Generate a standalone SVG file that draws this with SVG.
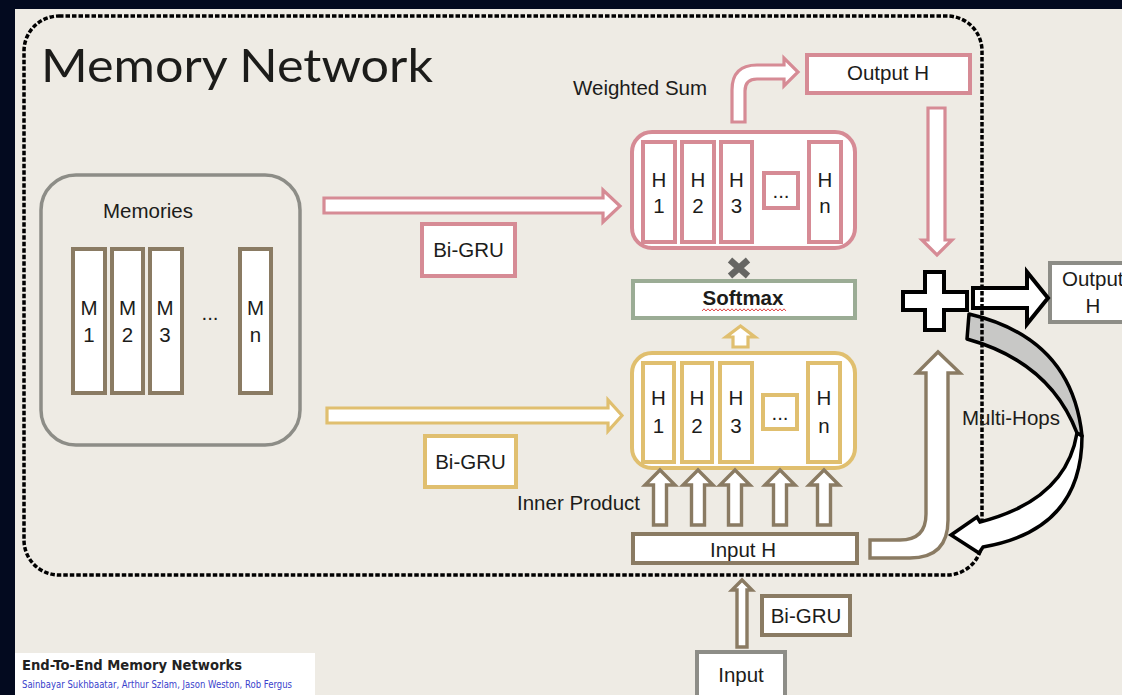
<svg xmlns="http://www.w3.org/2000/svg" width="1122" height="695" viewBox="0 0 1122 695">
  <defs>
    <style>
      .t{font-family:"Liberation Sans",Arial,sans-serif;font-size:20.5px;fill:#1c1c1a}
      .c{text-anchor:middle}
      .pink{fill:#fff;stroke:#d68b95;stroke-width:4}
      .yel{fill:#fff;stroke:#e0bf6f;stroke-width:4}
      .brn{fill:#fff;stroke:#8a7b63;stroke-width:4}
      .gry{fill:#fff;stroke:#8d8d87;stroke-width:4}
      .grn{fill:#fff;stroke:#9bac95;stroke-width:4}
      .pa{fill:#fff;stroke:#d68b95;stroke-width:3.2;stroke-linejoin:miter}
      .ya{fill:#fff;stroke:#e0bf6f;stroke-width:3.2}
      .ba{fill:#fff;stroke:#8a7b63;stroke-width:3.4}
      .ka{fill:#fff;stroke:#000;stroke-width:4}
    </style>
  </defs>

  <!-- page and slide -->
  <rect width="1122" height="695" fill="#030a1f"/>
  <rect x="15" y="9" width="1107" height="686" fill="#eeebe4"/>

  <text x="41" y="82" font-family="Lato,'Open Sans',sans-serif" font-size="47" fill="#1c1c1a" textLength="392" lengthAdjust="spacingAndGlyphs">Memory Network</text>

  <!-- memories -->
  <g id="memories">
    <rect x="41" y="175" width="259" height="270" rx="35" fill="none" stroke="#8d8d87" stroke-width="3.5"/>
    <text class="t c" x="148" y="218">Memories</text>
    <rect class="brn" x="73" y="249" width="32" height="144" stroke-width="3.5"/>
    <rect class="brn" x="112" y="249" width="31" height="144" stroke-width="3.5"/>
    <rect class="brn" x="150" y="249" width="32" height="144" stroke-width="3.5"/>
    <rect class="brn" x="240" y="249" width="31" height="144" stroke-width="3.5"/>
    <text class="t c" font-size="19.5"><tspan x="89" y="315">M</tspan><tspan x="89" y="342">1</tspan></text>
    <text class="t c" font-size="19.5"><tspan x="127.5" y="315">M</tspan><tspan x="127.5" y="342">2</tspan></text>
    <text class="t c" font-size="19.5"><tspan x="165" y="315">M</tspan><tspan x="165" y="342">3</tspan></text>
    <text class="t c" x="210" y="320" font-size="19">...</text>
    <text class="t c" font-size="19.5"><tspan x="255.5" y="315">M</tspan><tspan x="255.5" y="342">n</tspan></text>
  </g>

  <!-- output-side hidden states -->
  <g id="output-states">
    <rect class="pink" x="632" y="132" width="223" height="116" rx="20"/>
    <rect class="pink" x="643" y="142" width="32" height="100"/>
    <rect class="pink" x="682" y="142" width="32" height="100"/>
    <rect class="pink" x="721" y="142" width="31" height="100"/>
    <rect class="pink" x="764" y="173" width="34" height="35"/>
    <rect class="pink" x="809" y="142" width="32" height="100"/>
    <text class="t c"><tspan x="659" y="187">H</tspan><tspan x="659" y="213">1</tspan></text>
    <text class="t c"><tspan x="698" y="187">H</tspan><tspan x="698" y="213">2</tspan></text>
    <text class="t c"><tspan x="736.5" y="187">H</tspan><tspan x="736.5" y="213">3</tspan></text>
    <text class="t c" x="781" y="198" font-size="18">...</text>
    <text class="t c"><tspan x="825" y="187">H</tspan><tspan x="825" y="213">n</tspan></text>
  </g>

  <g id="weighted-sum-label"><text class="t" x="573" y="95">Weighted Sum</text></g>

  <g id="output-h">
    <rect class="pink" x="807" y="55" width="163" height="38"/>
    <text class="t c" x="888" y="80">Output H</text>
  </g>

  <g id="bigru-top">
    <rect class="pink" x="422" y="224" width="93" height="52"/>
    <text class="t c" x="468.5" y="257" font-size="19.5">Bi-GRU</text>
  </g>

  <g id="softmax">
    <rect class="grn" x="633" y="281" width="222" height="37"/>
    <text class="t c" x="743" y="305" font-size="20" font-weight="bold" fill="#000">Softmax</text>
    <path d="M702,311 l2,-2.2 l2,2.2 l2,-2.2 l2,2.2 l2,-2.2 l2,2.2 l2,-2.2 l2,2.2 l2,-2.2 l2,2.2 l2,-2.2 l2,2.2 l2,-2.2 l2,2.2 l2,-2.2 l2,2.2 l2,-2.2 l2,2.2 l2,-2.2 l2,2.2 l2,-2.2 l2,2.2 l2,-2.2 l2,2.2 l2,-2.2 l2,2.2 l2,-2.2 l2,2.2 l2,-2.2 l2,2.2 l2,-2.2 l2,2.2 l2,-2.2 l2,2.2 l2,-2.2 l2,2.2 l2,-2.2 l2,2.2 l2,-2.2 l2,2.2 l2,-2.2 l2,2.2" fill="none" stroke="#e04848" stroke-width="1"/>
  </g>

  <g id="times">
    <path d="M730,260 L748,276 M748,260 L730,276" stroke="#666663" stroke-width="6.5"/>
  </g>

  <!-- input-side hidden states -->
  <g id="input-states">
    <rect class="yel" x="632" y="353" width="223" height="115" rx="20"/>
    <rect class="yel" x="643" y="363" width="31" height="99"/>
    <rect class="yel" x="682" y="363" width="30" height="99"/>
    <rect class="yel" x="720" y="363" width="32" height="99"/>
    <rect class="yel" x="763" y="395" width="34" height="34"/>
    <rect class="yel" x="808" y="363" width="32" height="99"/>
    <text class="t c"><tspan x="658.5" y="405">H</tspan><tspan x="658.5" y="433">1</tspan></text>
    <text class="t c"><tspan x="697" y="405">H</tspan><tspan x="697" y="433">2</tspan></text>
    <text class="t c"><tspan x="736" y="405">H</tspan><tspan x="736" y="433">3</tspan></text>
    <text class="t c" x="780" y="420" font-size="18">...</text>
    <text class="t c"><tspan x="824" y="405">H</tspan><tspan x="824" y="433">n</tspan></text>
  </g>

  <g id="bigru-mid">
    <rect class="yel" x="425" y="436" width="91" height="51"/>
    <text class="t c" x="470.5" y="469" font-size="19.5">Bi-GRU</text>
  </g>

  <g id="inner-product-label"><text class="t" x="517" y="510">Inner Product</text></g>

  <g id="input-h">
    <rect class="brn" x="633" y="534" width="224" height="29"/>
    <text class="t c" x="743" y="557">Input H</text>
  </g>

  <g id="plus">
    <path class="ka" d="M925,272 H944 V292 H967 V310 H944 V330 H925 V310 H903 V292 H925 Z"/>
  </g>

  <g id="output-final">
    <rect class="gry" x="1050" y="263" width="90" height="59"/>
    <text class="t" x="1062" y="286">Output</text>
    <text class="t c" x="1093" y="313">H</text>
  </g>

  <g id="bigru-bottom">
    <rect class="brn" x="762" y="596" width="88" height="39"/>
    <text class="t c" x="806" y="623" font-size="19.5">Bi-GRU</text>
  </g>

  <g id="input">
    <rect class="gry" x="697" y="652" width="88" height="50"/>
    <text class="t c" x="741" y="682">Input</text>
  </g>

  <!-- connectors -->
  <g id="connectors">
    <path class="pa" d="M324,198 H603 V190 L620,206 L603,222 V213 H324 Z"/>
    <path class="ya" d="M327,408 H608 V400 L622,415.5 L608,431 V423 H327 Z"/>
    <path class="pa" d="M732,122 V90 Q732,65 757,65 H784 V58 L798,72 L784,86 V79 H757 Q745,79 745,91 V122 Z"/>
    <path class="pa" d="M928,108 H945 V240 H952 L937,255 L922,240 H928 Z"/>
    <path class="ya" d="M733,347 V337 H726 L740.5,326 L755,337 H748 V347 Z"/>
    <path class="ba" d="M653.5,525 V485 H645 L660,470 L675,485 H666.5 V525 Z"/>
    <path class="ba" d="M691.5,525 V485 H683 L698,470 L713,485 H704.5 V525 Z"/>
    <path class="ba" d="M728.5,525 V485 H720 L735,470 L750,485 H741.5 V525 Z"/>
    <path class="ba" d="M773.5,525 V485 H765 L780,470 L795,485 H786.5 V525 Z"/>
    <path class="ba" d="M817.5,525 V485 H809 L824,470 L839,485 H830.5 V525 Z"/>
    <path class="ba" d="M870,540 H900 Q926,540 926,514 V373 H917 L938,352 L960,373 H948 V520 Q948,558 910,558 H870 Z"/>
    <path class="ba" d="M737,647 V590 H732 L742,580 L752,590 H747 V647 Z" stroke-width="3"/>
    <path class="ka" d="M973,288 H1027 V272 L1048,298 L1027,324 V308 H973 Z"/>
    <path d="M969,314 Q1072,338 1082,436 L1077,433 Q1050,362 967,339 Z" fill="#c8c8c6" stroke="#000" stroke-width="3.5" stroke-linejoin="round"/>
  </g>

  <!-- dashed frame -->
  <g id="memory-network-frame">
    <rect x="24" y="16" width="958" height="559" rx="35" fill="none" stroke="#000" stroke-width="3.5" stroke-dasharray="4.5 2"/>
  </g>

  <g id="multi-hops">
    <path d="M1077,433 Q1066,500 980,522 L977,517 L951,535 L979,553 L983,547 Q1082,530 1082,436 Z" fill="#fff" stroke="#000" stroke-width="3.5" stroke-linejoin="miter"/>
    <text class="t" x="962" y="425">Multi-Hops</text>
  </g>

  <!-- reference note -->
  <g id="citation">
    <rect x="15" y="653" width="300" height="42" fill="#fff"/>
    <text x="22" y="670" font-family="'DejaVu Sans',sans-serif" font-size="13.5" font-weight="bold" fill="#222" textLength="220" lengthAdjust="spacingAndGlyphs">End-To-End Memory Networks</text>
    <text x="22" y="688" font-family="'DejaVu Sans',sans-serif" font-size="11" fill="#3a3fcc" textLength="270" lengthAdjust="spacingAndGlyphs">Sainbayar Sukhbaatar, Arthur Szlam, Jason Weston, Rob Fergus</text>
  </g>
</svg>
